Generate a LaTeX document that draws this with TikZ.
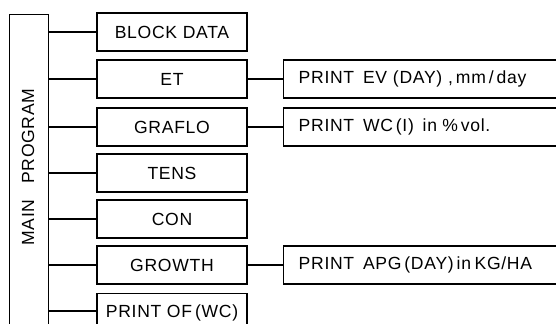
\documentclass[tikz,border=0pt]{standalone}
\usepackage{fontspec}
\setmainfont{Liberation Sans}[LetterSpace=4]
\usetikzlibrary{positioning}

\tikzset{
    subbox/.style={draw, minimum width=3cm, minimum height=0.76cm, inner sep=0pt},
    printbox/.style={draw, minimum width=6cm, minimum height=0.76cm, inner sep=0pt,
        anchor=west, text width=5.8cm, align=left},
}

\begin{document}
\begin{tikzpicture}[thick, x=0.02cm, y=-0.02cm, font=\fontsize{10}{12}\selectfont]
    \useasboundingbox (0,0) rectangle (556,324);
    \clip (0,0) rectangle (556,324);

    % main program bar, running off the bottom
    \node[draw, minimum width=0.78cm, minimum height=7cm, anchor=north west, inner sep=0pt] (main) at (9,14) {};
    \node[rotate=90] (mainlabel) at (28,167) {MAIN\hspace{0.9em}PROGRAM};

    % subroutines
    \node[subbox] (block) at (172,32) {BLOCK DATA};
    \node[subbox] (et) at (172,79) {ET};
    \node[subbox] (graflo) at (172,127) {GRAFLO};
    \node[subbox] (tens) at (172,173) {TENS};
    \node[subbox] (con) at (172,219) {CON};
    \node[subbox] (growth) at (172,265) {GROWTH};
    \node[subbox, anchor=north] (printof) at (172,293) {PRINT OF\,(WC)};
    \coordinate (ofin) at (97,311);

    % print outputs
    \node[printbox] (pev) at (283,79) {\hspace{0.2cm}PRINT\hspace{0.5em}EV (DAY) ,\,mm\,/\,day};
    \node[printbox] (pwc) at (283,127) {\hspace{0.2cm}PRINT\hspace{0.5em}WC\,(I)\hspace{0.5em}in\hspace{0.3em}\%\,vol.};
    \node[printbox] (papg) at (283,265) {\hspace{0.2cm}PRINT\hspace{0.5em}APG\,(DAY)\,in\hspace{0.2em}KG/HA};

    \foreach \b in {block, et, graflo, tens, con, growth}
        \draw (main.east |- \b.west) -- (\b.west);
    \draw (main.east |- ofin) -- (ofin);

    \draw (et.east) -- (pev.west);
    \draw (graflo.east) -- (pwc.west);
    \draw (growth.east) -- (papg.west);
\end{tikzpicture}
\end{document}
